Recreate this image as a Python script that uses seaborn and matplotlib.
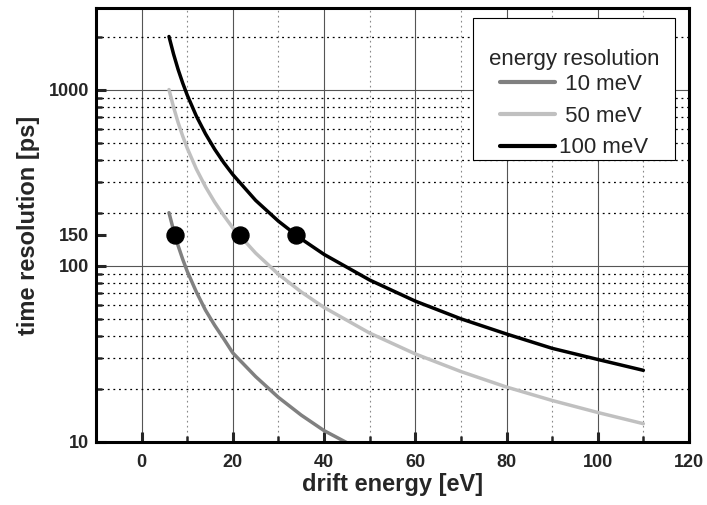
import numpy as np
import pandas as pd
import seaborn as sns
import matplotlib.pyplot as plt
from matplotlib.patches import Rectangle
from matplotlib.ticker import FixedLocator, NullFormatter

# drift energy [eV] and time resolution [ps]
energy = [6, 7, 8, 9, 10, 12, 14, 16, 18, 20, 25, 30, 35, 40, 50, 60, 70, 80, 90, 100, 110]
t_100 = [2000, 1590, 1300, 1090, 930, 707, 561, 459, 385, 329, 235, 179, 142, 116, 83, 63, 50, 41, 34, 29.4, 25.5]
t_50 = [1000, 795, 650, 545, 465, 354, 281, 230, 193, 164, 118, 89.5, 71, 58, 41.5, 31.6, 25.1, 20.5, 17.2, 14.7, 12.7]
energy_10 = [6, 7, 8, 9, 10, 12, 14, 16, 18, 20, 25, 30, 35, 40, 46]
t_10 = [200, 159, 130, 109, 93, 71, 56, 46, 38.5, 32, 23.5, 17.9, 14.2, 11.6, 9.6]

dot_energy = [7.3, 21.5, 33.8]
dot_time = [150, 150, 150]

labels = ["10 meV", "50 meV", "100 meV"]
colors = ["#808080", "#c0c0c0", "#000000"]

df = pd.concat([
    pd.DataFrame({"E": energy_10, "t": t_10, "res": labels[0]}),
    pd.DataFrame({"E": energy, "t": t_50, "res": labels[1]}),
    pd.DataFrame({"E": energy, "t": t_100, "res": labels[2]}),
])

sns.set_style("white")
plt.rcParams['font.family'] = ['Liberation Sans', 'DejaVu Sans']

fig = plt.figure(figsize=(7.07, 5.05), dpi=100)
ax = fig.add_axes([0.1358, 0.1248, 0.8387, 0.8592])

sns.lineplot(data=df, x="E", y="t", hue="res", palette=dict(zip(labels, colors)),
             linewidth=2.5, ax=ax, sort=False, estimator=None)
sns.scatterplot(x=dot_energy, y=dot_time, color="black", s=150, edgecolor="black",
                zorder=5, ax=ax, legend=False)

ax.set_yscale("log")
ax.set_xlim(-10, 120)
ax.set_ylim(10, 2900)

ax.set_xticks([0, 20, 40, 60, 80, 100, 120])
ax.xaxis.set_minor_locator(FixedLocator([10, 30, 50, 70, 90, 110]))
ax.set_yticks([10, 100, 150, 1000])
ax.set_yticklabels(["10", "100", "150", "1000"])
ax.yaxis.set_minor_locator(FixedLocator([20, 30, 40, 50, 60, 70, 80, 90,
                                         200, 300, 400, 500, 600, 700, 800, 900, 2000]))
ax.yaxis.set_minor_formatter(NullFormatter())

for lab in ax.get_xticklabels() + ax.get_yticklabels():
    lab.set_fontweight("bold")
    lab.set_fontsize(13)

ax.tick_params(which="major", direction="in", length=7, width=2.2)
ax.tick_params(axis="x", which="major", pad=9)
ax.tick_params(axis="y", which="major", pad=5)
ax.tick_params(which="minor", direction="in", length=4, width=1.8)
ax.tick_params(axis="both", which="both", bottom=True, left=True, top=False, right=False)

# grid
ax.grid(True, which="major", axis="x", color="#555555", linewidth=0.8)
ax.grid(True, which="minor", axis="x", color="#888888", linewidth=0.8, linestyle=(0, (1.5, 3)))
ax.grid(True, which="major", axis="y", color="#555555", linewidth=0.8)
ax.grid(True, which="minor", axis="y", color="black", linewidth=0.9, linestyle=(0, (1.5, 3)))
ax.get_ygridlines()[2].set_visible(False)
ax.set_axisbelow(True)

for sp in ax.spines.values():
    sp.set_linewidth(2.2)
    sp.set_color("black")

ax.set_xlabel("drift energy [eV]", fontsize=17, fontweight="bold", labelpad=1)
ax.set_ylabel("time resolution [ps]", fontsize=17, fontweight="bold", labelpad=6)

# legend box drawn by hand so the padding matches the original
ax.add_patch(Rectangle((0.636, 0.650), 0.340, 0.327, transform=ax.transAxes,
                       facecolor="white", edgecolor="black", linewidth=0.8, zorder=6))

handles, _ = ax.get_legend_handles_labels()
leg = ax.legend(handles=handles, labels=[" " + labels[0], " " + labels[1], labels[2]],
                title="energy resolution",
                loc="upper right", bbox_to_anchor=(0.997, 0.985), fontsize=16,
                title_fontsize=16, frameon=False, handlelength=2.45, handletextpad=0.2,
                labelspacing=0.48, borderpad=0.75)
leg.set_zorder(7)
leg.get_title().set_position((0, -7))
for line in leg.get_lines():
    line.set_linewidth(3)

fig.savefig("out.png", dpi=100)
